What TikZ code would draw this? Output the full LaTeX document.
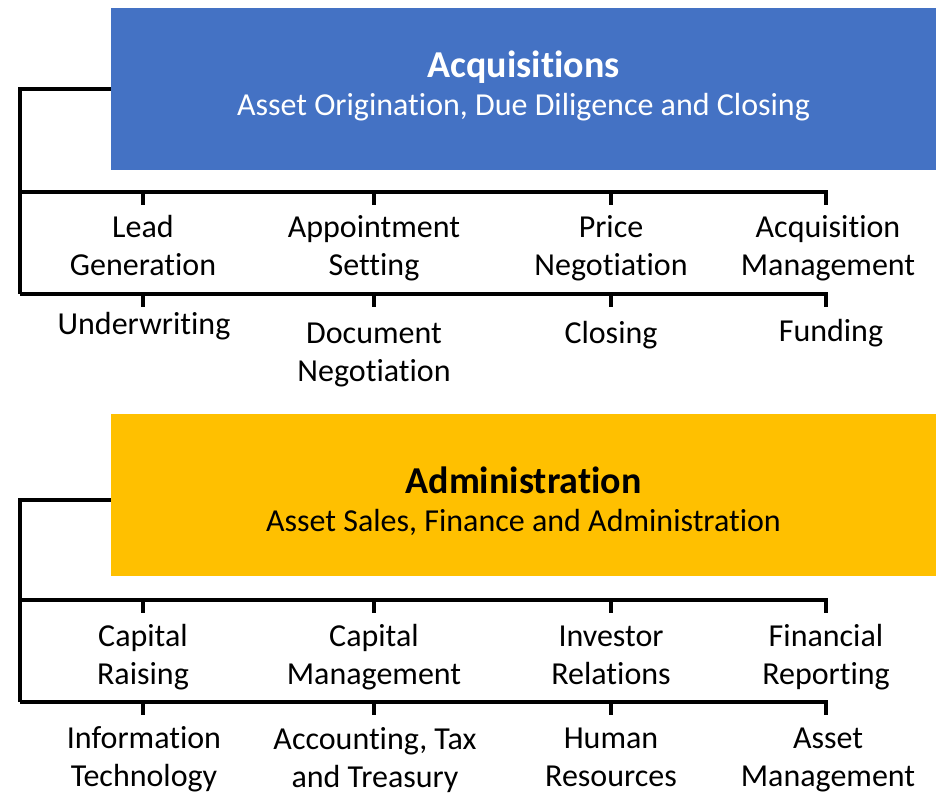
\documentclass[tikz,border=0pt]{standalone}
\usepackage{fontspec}
\setmainfont{Carlito}[Ligatures = NoCommon]
\usetikzlibrary{positioning}
\definecolor{acqblue}{HTML}{4472C4}
\definecolor{admgold}{HTML}{FFC000}
\tikzset{x = 0.5pt, y = -0.5pt,
         wire/.style = {line width = 2pt},
         headbox/.style = {minimum width = 412.5pt, minimum height = 81pt, inner sep = 0pt},
         headtitle/.style = {font = \fontsize{19}{23}\selectfont\bfseries, anchor = base, inner sep = 0pt},
         headsub/.style = {font = \fontsize{16}{19}\selectfont, anchor = base, inner sep = 0pt},
         task/.style = {font = \fontsize{16}{19}\selectfont, align = center, anchor = base, inner sep = 0pt}}

\begin{document}
\begin{tikzpicture}
  \useasboundingbox (0,0) rectangle (941,792);

  % Acquisitions block
  \node[headbox, fill = acqblue]   (acq)      at (523.5,89)  {};
  \node[headtitle, text = white]   (acqtitle) at (523.5,77)  {Acquisitions};
  \node[headsub, text = white]     (acqsub)   at (523.5,115) {Asset Origination, Due Diligence and Closing};

  \coordinate (acqhook) at (20,89);
  \coordinate (acqbar)  at (20,192);
  \coordinate (acqbarb) at (20,294);

  % base = last line
  \node[task] (lead)    at (143,275) {Lead\\Generation};
  \node[task] (appt)    at (374,275) {Appointment\\Setting};
  \node[task] (price)   at (611,275) {Price\\Negotiation};
  \node[task] (acqmgmt) at (828,275) {Acquisition\\Management};

  \node[task] (under)   at (144,334) {Underwriting};
  \node[task] (docneg)  at (374,381) {Document\\Negotiation};
  \node[task] (closing) at (611,343) {Closing};
  \node[task] (funding) at (831,341) {Funding};

  \draw[wire] (acq.west) -- (acqhook) -- (acqbarb);
  \draw[wire] (acqbar) -- (acqbar -| 826,0) -- ++(0,13);
  \draw[wire] (acqbarb) -- (acqbarb -| 826,0) -- ++(0,13);
  \draw[wire] (lead |- acqbar)  -- ++(0,13);
  \draw[wire] (appt |- acqbar)  -- ++(0,13);
  \draw[wire] (price |- acqbar) -- ++(0,13);
  \draw[wire] (lead |- acqbarb)  -- ++(0,13);
  \draw[wire] (appt |- acqbarb)  -- ++(0,13);
  \draw[wire] (price |- acqbarb) -- ++(0,13);

  % Administration block
  \node[headbox, fill = admgold]   (adm)      at (523.5,495) {};
  \node[headtitle]                 (admtitle) at (523.5,493) {Administration};
  \node[headsub]                   (admsub)   at (523.5,531) {Asset Sales, Finance and Administration};

  \coordinate (admhook) at (20,500);
  \coordinate (admbar)  at (20,600);
  \coordinate (admbarb) at (20,702);

  \node[task] (raising)   at (143,684) {Capital\\Raising};
  \node[task] (capmgmt)   at (374,684) {Capital\\Management};
  \node[task] (investor)  at (611,684) {Investor\\Relations};
  \node[task] (finrep)    at (826,684) {Financial\\Reporting};

  \node[task] (infotech)  at (144,786) {Information\\Technology};
  \node[task] (account)   at (375,787) {Accounting, Tax\\and Treasury};
  \node[task] (human)     at (611,786) {Human\\Resources};
  \node[task] (assetmgmt) at (828,786) {Asset\\Management};

  \draw[wire] (admhook -| adm.west) -- (admhook) -- (admbarb);
  \draw[wire] (admbar) -- (admbar -| finrep) -- ++(0,13);
  \draw[wire] (admbarb) -- (admbarb -| finrep) -- ++(0,13);
  \draw[wire] (raising |- admbar)  -- ++(0,13);
  \draw[wire] (capmgmt |- admbar)  -- ++(0,13);
  \draw[wire] (investor |- admbar) -- ++(0,13);
  \draw[wire] (raising |- admbarb)  -- ++(0,13);
  \draw[wire] (capmgmt |- admbarb)  -- ++(0,13);
  \draw[wire] (investor |- admbarb) -- ++(0,13);
\end{tikzpicture}
\end{document}
